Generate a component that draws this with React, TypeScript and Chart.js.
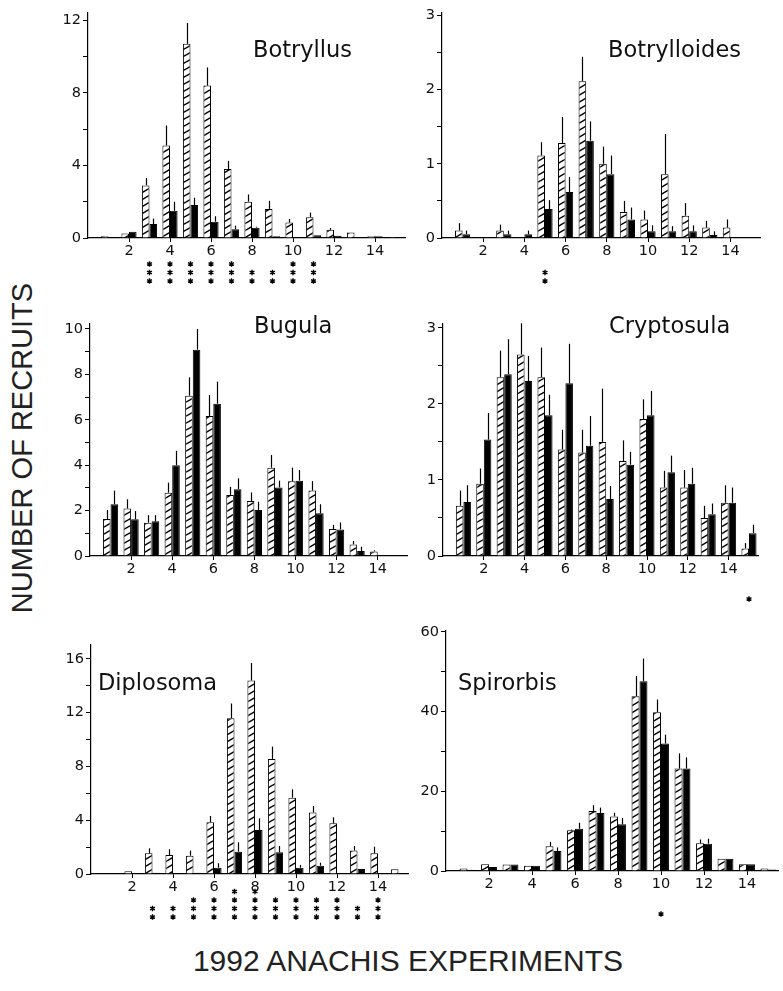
import React, { useEffect, useRef } from "react";
import { Chart, registerables } from "chart.js";
Chart.register(...registerables);

const categories = [1, 2, 3, 4, 5, 6, 7, 8, 9, 10, 11, 12, 13, 14, 15];
const xTickLabels = [2, 4, 6, 8, 10, 12, 14];

// Botryllus
const botryllusHatched = [0.1, 0.25, 2.9, 5.1, 10.7, 8.4, 3.8, 2.0, 1.6, 0.85, 1.15, 0.45, 0.3, 0.1, 0.05];
const botryllusHatchedErr = [0, 0, 0.4, 1.1, 1.15, 1.0, 0.45, 0.4, 0.45, 0.2, 0.25, 0.1, 0, 0, 0];
const botryllusSolid = [0.05, 0.35, 0.77, 1.5, 1.82, 0.9, 0.48, 0.57, 0.1, 0.03, 0.15, 0.12, 0.05, 0.1, 0.02];
const botryllusSolidErr = [0, 0, 0.3, 0.5, 0.4, 0.3, 0.2, 0.05, 0, 0, 0, 0, 0, 0, 0];
const botryllusStars = [0, 0, 3, 3, 3, 3, 3, 2, 2, 3, 3, 0, 0, 0, 0];

// Botrylloides
const botrylloidesHatched = [0.1, 0, 0.1, 0, 1.11, 1.28, 2.11, 1.0, 0.35, 0.25, 0.86, 0.3, 0.14, 0.14, 0];
const botrylloidesHatchedErr = [0.1, 0, 0.08, 0, 0.18, 0.35, 0.33, 0.23, 0.15, 0.12, 0.54, 0.17, 0.09, 0.11, 0];
const botrylloidesSolid = [0.05, 0, 0.05, 0.05, 0.39, 0.62, 1.31, 0.86, 0.25, 0.09, 0.09, 0.09, 0.04, 0, 0];
const botrylloidesSolidErr = [0.05, 0, 0.05, 0.05, 0.12, 0.2, 0.26, 0.25, 0.16, 0.08, 0.07, 0.08, 0.05, 0, 0];
const botrylloidesStars = [0, 0, 0, 0, 2, 0, 0, 0, 0, 0, 0, 0, 0, 0, 0];

// Bugula
const bugulaHatched = [1.63, 2.09, 1.47, 2.79, 7.06, 6.17, 2.69, 2.42, 3.89, 3.29, 2.88, 1.19, 0.51, 0.2, 0.03];
const bugulaHatchedErr = [0.4, 0.41, 0.33, 0.44, 0.81, 0.92, 0.36, 0.38, 0.56, 0.6, 0.42, 0.18, 0.15, 0.05, 0];
const bugulaSolid = [2.28, 1.62, 1.53, 4.0, 9.09, 6.71, 2.94, 2.03, 3.02, 3.32, 1.88, 1.17, 0.22, 0.03, 0.03];
const bugulaSolidErr = [0.6, 0.36, 0.27, 0.63, 0.91, 0.97, 0.48, 0.36, 0.3, 0.47, 0.4, 0.31, 0.19, 0, 0];
const bugulaStars = [0, 0, 0, 0, 0, 0, 0, 0, 0, 0, 0, 0, 0, 0, 0];

// Cryptosula
const cryptosulaHatched = [0.66, 0.95, 2.35, 2.65, 2.35, 1.4, 1.36, 1.5, 1.25, 1.8, 0.9, 0.9, 0.5, 0.7, 0.1];
const cryptosulaHatchedErr = [0.2, 0.2, 0.35, 0.41, 0.39, 0.26, 0.3, 0.7, 0.27, 0.26, 0.22, 0.23, 0.16, 0.23, 0.07];
const cryptosulaSolid = [0.71, 1.53, 2.39, 2.3, 1.85, 2.27, 1.45, 0.75, 1.2, 1.85, 1.1, 0.95, 0.55, 0.7, 0.3];
const cryptosulaSolidErr = [0.22, 0.35, 0.46, 0.33, 0.27, 0.52, 0.39, 0.17, 0.17, 0.32, 0.22, 0.21, 0.14, 0.2, 0.11];
const cryptosulaStars = [0, 0, 0, 0, 0, 0, 0, 0, 0, 0, 0, 0, 0, 0, 1];

// Diplosoma
const diplosomaHatched = [0.05, 0.2, 1.54, 1.41, 1.36, 3.85, 11.59, 14.4, 8.56, 5.68, 4.57, 3.77, 1.74, 1.54, 0.35];
const diplosomaHatchedErr = [0, 0, 0.37, 0.43, 0.38, 0.47, 1.1, 1.3, 0.92, 0.62, 0.49, 0.45, 0.34, 0.49, 0];
const diplosomaSolid = [0.02, 0, 0.1, 0.05, 0.1, 0.47, 1.66, 3.28, 1.61, 0.47, 0.62, 0.05, 0.37, 0, 0];
const diplosomaSolidErr = [0, 0, 0, 0, 0, 0.33, 0.7, 0.86, 0.47, 0.2, 0.22, 0, 0, 0, 0];
const diplosomaStars = [0, 0, 2, 2, 3, 3, 4, 4, 3, 3, 3, 3, 2, 3, 0];

// Spirorbis
const spirorbisHatched = [0.6, 1.67, 1.6, 1.3, 6.2, 10.2, 15.06, 13.7, 43.85, 39.8, 25.7, 6.95, 3.1, 1.67, 0.6];
const spirorbisHatchedErr = [0, 0, 0, 0, 1.1, 0.2, 1.44, 0.9, 5.05, 3.2, 3.8, 0.95, 0, 0, 0];
const spirorbisSolid = [0.3, 1.0, 1.6, 1.3, 5.0, 10.6, 14.56, 11.7, 47.6, 31.97, 25.7, 6.86, 3.1, 1.67, 0.4];
const spirorbisSolidErr = [0, 0, 0, 0, 0.9, 1.5, 1.34, 1.6, 5.7, 2.23, 2.8, 1.24, 0, 0, 0];
const spirorbisStars = [0, 0, 0, 0, 0, 0, 0, 0, 0, 1, 0, 0, 0, 0, 0];

const FONT = '"DejaVu Sans", sans-serif';
const PAD_L = 46;
const PAD_T = 14;
const PAD_B = 64;
const PAD_R = 6;

type PanelSpec = {
  name: string;
  hatched: number[];
  hatchedErr: number[];
  solid: number[];
  solidErr: number[];
  stars: number[];
  yMax: number;
  yTickMax: number;
  yStep: number;
  yLabelStep: number;
  axisX: number;
  y0: number;
  top: number;
  right: number;
  unit: number;
  titleX: number;
  titleBase: number;
};

const panels: PanelSpec[] = [
  { name: "Botryllus", hatched: botryllusHatched, hatchedErr: botryllusHatchedErr, solid: botryllusSolid, solidErr: botryllusSolidErr, stars: botryllusStars,
    yMax: 12.4, yTickMax: 12, yStep: 2, yLabelStep: 4, axisX: 88, y0: 238, top: 13, right: 405, unit: 20.5, titleX: 253, titleBase: 57 },
  { name: "Botrylloides", hatched: botrylloidesHatched, hatchedErr: botrylloidesHatchedErr, solid: botrylloidesSolid, solidErr: botrylloidesSolidErr, stars: botrylloidesStars,
    yMax: 3.03, yTickMax: 3, yStep: 0.5, yLabelStep: 1, axisX: 442, y0: 238, top: 13, right: 760, unit: 20.6, titleX: 608, titleBase: 57 },
  { name: "Bugula", hatched: bugulaHatched, hatchedErr: bugulaHatchedErr, solid: bugulaSolid, solidErr: bugulaSolidErr, stars: bugulaStars,
    yMax: 10.22, yTickMax: 10, yStep: 1, yLabelStep: 2, axisX: 90, y0: 556, top: 324, right: 407, unit: 20.55, titleX: 254, titleBase: 333 },
  { name: "Cryptosula", hatched: cryptosulaHatched, hatchedErr: cryptosulaHatchedErr, solid: cryptosulaSolid, solidErr: cryptosulaSolidErr, stars: cryptosulaStars,
    yMax: 3.05, yTickMax: 3, yStep: 0.5, yLabelStep: 1, axisX: 443, y0: 556, top: 324, right: 758, unit: 20.4, titleX: 609, titleBase: 333 },
  { name: "Diplosoma", hatched: diplosomaHatched, hatchedErr: diplosomaHatchedErr, solid: diplosomaSolid, solidErr: diplosomaSolidErr, stars: diplosomaStars,
    yMax: 17.04, yTickMax: 16, yStep: 2, yLabelStep: 4, axisX: 91, y0: 874, top: 645, right: 408, unit: 20.5, titleX: 98, titleBase: 690 },
  { name: "Spirorbis", hatched: spirorbisHatched, hatchedErr: spirorbisHatchedErr, solid: spirorbisSolid, solidErr: spirorbisSolidErr, stars: spirorbisStars,
    yMax: 60.2, yTickMax: 60, yStep: 10, yLabelStep: 20, axisX: 446, y0: 871, top: 631, right: 778, unit: 21.5, titleX: 458, titleBase: 690 },
];

function makeHatch(): CanvasPattern | string {
  const W = 12;
  const H = 7;
  const c = document.createElement("canvas");
  c.width = W;
  c.height = H;
  const g = c.getContext("2d");
  if (!g) return "#fff";
  g.fillStyle = "#fff";
  g.fillRect(0, 0, W, H);
  g.strokeStyle = "#000";
  g.lineWidth = 1.5;
  for (const dy of [-H, 0, H]) {
    g.beginPath();
    g.moveTo(0, H + dy);
    g.lineTo(W, dy);
    g.stroke();
  }
  return g.createPattern(c, "repeat") || "#fff";
}

function drawAsterisk(ctx: CanvasRenderingContext2D, x: number, y: number, r: number) {
  ctx.beginPath();
  for (let k = 0; k < 3; k++) {
    const a = Math.PI / 2 + (k * Math.PI) / 3;
    ctx.moveTo(x - r * Math.cos(a), y - r * Math.sin(a));
    ctx.lineTo(x + r * Math.cos(a), y + r * Math.sin(a));
  }
  ctx.stroke();
}

function Panel({ spec }: { spec: PanelSpec }) {
  const ref = useRef<HTMLCanvasElement>(null);
  const w = spec.right - spec.axisX + PAD_L + PAD_R;
  const h = spec.y0 - spec.top + PAD_T + PAD_B;
  const xmax = (spec.right - spec.axisX) / spec.unit;

  useEffect(() => {
    const canvas = ref.current;
    if (!canvas) return;
    const hatch = makeHatch();

    const extras = {
      id: "extras",
      afterDatasetsDraw(chart: any) {
        const ctx: CanvasRenderingContext2D = chart.ctx;
        const ys = chart.scales.y;
        const xs = chart.scales.x;
        ctx.save();
        ctx.strokeStyle = "#000";
        ctx.lineWidth = 1.2;
        chart.data.datasets.forEach((ds: any, di: number) => {
          const meta = chart.getDatasetMeta(di);
          meta.data.forEach((el: any, i: number) => {
            const e = ds.errors[i];
            if (!e) return;
            const v = ds.data[i].y;
            const yTop = ys.getPixelForValue(v + e);
            ctx.beginPath();
            ctx.moveTo(Math.round(el.x) + 0.5, el.y);
            ctx.lineTo(Math.round(el.x) + 0.5, yTop);
            ctx.stroke();
          });
        });
        // significance asterisks
        ctx.lineWidth = 1.4;
        const base = chart.chartArea.bottom + 43;
        spec.stars.forEach((n, i) => {
          const x = xs.getPixelForValue(categories[i]);
          for (let k = 0; k < n; k++) {
            drawAsterisk(ctx, x, base - k * 8.5, 2.8);
          }
        });
        // panel title
        ctx.fillStyle = "#111";
        ctx.font = `22.5px ${FONT}`;
        ctx.textBaseline = "alphabetic";
        ctx.textAlign = "left";
        ctx.fillText(spec.name, spec.titleX - (spec.axisX - PAD_L), spec.titleBase - (spec.top - PAD_T));
        ctx.restore();
      },
    };

    const chart = new Chart(canvas, {
      type: "bar",
      data: {
        datasets: [
          {
            data: categories.map((c, i) => ({ x: c, y: spec.hatched[i] })),
            errors: spec.hatchedErr,
            backgroundColor: hatch,
            borderColor: "#000",
            borderWidth: 1,
          } as any,
          {
            data: categories.map((c, i) => ({ x: c, y: spec.solid[i] })),
            errors: spec.solidErr,
            backgroundColor: "#000",
            borderColor: "#000",
            borderWidth: 1,
          } as any,
        ],
      },
      options: {
        responsive: false,
        animation: false,
        events: [],
        layout: { padding: { top: PAD_T, right: PAD_R, left: 0, bottom: 0 } },
        datasets: { bar: { categoryPercentage: 0.74, barPercentage: 1 } },
        plugins: { legend: { display: false }, tooltip: { enabled: false }, title: { display: false } },
        scales: {
          x: {
            type: "linear",
            min: 0,
            max: xmax,
            offset: false,
            grid: { offset: false, drawOnChartArea: false, drawTicks: true, tickLength: 4, color: "#000", lineWidth: 1 },
            border: { display: true, color: "#000", width: 1.2 },
            ticks: {
              color: "#111",
              font: { family: FONT, size: 14.5 },
              padding: 1,
              maxRotation: 0,
              autoSkip: false,
              callback: (v: any) => String(v),
            },
            afterBuildTicks: (s: any) => {
              s.ticks = xTickLabels.map((v) => ({ value: v }));
            },
            afterFit: (s: any) => {
              s.height = PAD_B;
            },
          },
          y: {
            type: "linear",
            min: 0,
            max: spec.yMax,
            grid: { drawOnChartArea: false, drawTicks: true, tickLength: 5, color: "#000", lineWidth: 1 },
            border: { display: true, color: "#000", width: 1.2 },
            ticks: {
              color: "#111",
              font: { family: FONT, size: 14.5 },
              padding: 2,
              autoSkip: false,
              callback: (v: any) => {
                const q = v / spec.yLabelStep;
                return Math.abs(q - Math.round(q)) < 1e-6 ? String(v) : "";
              },
            },
            afterBuildTicks: (s: any) => {
              const t: any[] = [];
              const n = Math.round(spec.yTickMax / spec.yStep);
              for (let k = 0; k <= n; k++) t.push({ value: +(k * spec.yStep).toFixed(4) });
              s.ticks = t;
            },
            afterFit: (s: any) => {
              s.width = PAD_L;
            },
          },
        },
      } as any,
      plugins: [extras],
    });
    return () => chart.destroy();
  }, []);

  return (
    <canvas
      ref={ref}
      width={w}
      height={h}
      style={{ position: "absolute", left: spec.axisX - PAD_L, top: spec.top - PAD_T, width: w, height: h }}
    />
  );
}

export default function App() {
  return (
    <div style={{ position: "absolute", left: 0, top: 0, width: 783, height: 991, background: "#fff", overflow: "hidden" }}>
      {panels.map((p) => (
        <Panel key={p.name} spec={p} />
      ))}
      <div
        style={{
          position: "absolute",
          left: 22,
          top: 448,
          transform: "translate(-50%, -50%) rotate(-90deg)",
          whiteSpace: "nowrap",
          fontFamily: '"Liberation Sans", sans-serif',
          fontSize: 29,
          color: "#222",
          lineHeight: 1,
        }}
      >
        NUMBER OF RECRUITS
      </div>
      <div
        style={{
          position: "absolute",
          left: 408,
          top: 961,
          transform: "translate(-50%, -50%)",
          whiteSpace: "nowrap",
          fontFamily: '"Liberation Sans", sans-serif',
          fontSize: 30,
          color: "#222",
          lineHeight: 1,
        }}
      >
        1992 ANACHIS EXPERIMENTS
      </div>
    </div>
  );
}
